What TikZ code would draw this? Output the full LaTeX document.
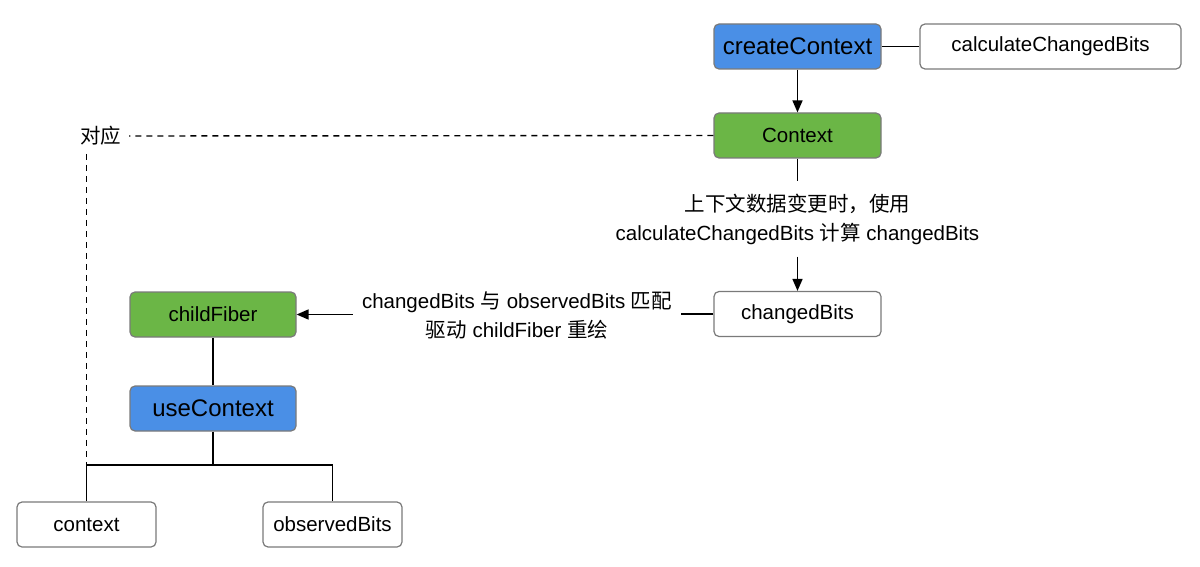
\documentclass[tikz,border=0pt]{standalone}
\usepackage{fontspec}
\setmainfont{Liberation Sans}
\newfontfamily\cjk{Noto Sans CJK SC}
\usetikzlibrary{arrows.meta}
\definecolor{bluebox}{HTML}{4A8FE6}
\definecolor{greenbox}{HTML}{6BB646}
\definecolor{edgegray}{HTML}{7A7A7A}
\tikzset{
  box/.style={draw=edgegray, line width=1.2pt, rounded corners=5pt, minimum width=167pt, minimum height=45pt, inner sep=0pt, font=\fontsize{20.5}{24}\selectfont},
  bigtext/.style={font=\fontsize{24}{28}\selectfont},
  smallbox/.style={box, minimum width=139pt},
  conn/.style={line width=1.6pt, black},
  arr/.style={conn, -{Triangle[length=12pt,width=10pt]}},
  dashline/.style={line width=1.4pt, black, dash pattern=on 6pt off 5pt},
  lbl/.style={align=center, font=\fontsize{20.5}{29}\selectfont}
}
\begin{document}
\begin{tikzpicture}[x=1pt,y=-1pt]
\useasboundingbox (0,0) rectangle (1200,567);
% nodes
\node[box, fill=bluebox, bigtext] (cc) at (797.5,46.5) {createContext};
\node[box, fill=white, minimum width=261pt] (calc) at (1050.5,46.5) {calculateChangedBits};
\node[box, fill=greenbox] (ctx) at (797.5,135.5) {Context};
\node[box, fill=white] (chg) at (797.5,314) {changedBits};
\node[box, fill=greenbox, minimum width=166pt] (cf) at (213,314.5) {childFiber};
\node[box, fill=bluebox, bigtext, minimum width=166pt] (uc) at (213,408.5) {useContext};
\node[smallbox, fill=white] (cx) at (86.5,524.5) {context};
\node[smallbox, fill=white] (ob) at (332.5,524.5) {observedBits};
% labels
\node[lbl, inner xsep=0pt, inner ysep=12pt] (l1) at (797.5,219) {{\cjk 上下文数据变更时，使用}\\calculateChangedBits {\cjk 计算} changedBits};
\node[lbl, inner xsep=9pt, inner ysep=0pt] (l2) at (517,315.5) {changedBits {\cjk 与} observedBits {\cjk 匹配}\\{\cjk 驱动} childFiber {\cjk 重绘}};
\node[font=\fontsize{20.5}{24}\selectfont\cjk, inner xsep=8pt, inner ysep=4pt] (dy) at (100.5,136) {对应};
% connectors
\draw[conn] (cc) -- (calc);
\draw[arr] (cc) -- (ctx);
\draw[conn] (ctx.south) -- (ctx.south |- l1.north);
\draw[arr] (chg.north |- l1.south) -- (chg.north);
\draw[conn] (chg.west) -- (l2.east |- chg.west);
\draw[arr] (l2.west |- cf.east) -- (cf.east);
\draw[conn] (cf) -- (uc);
\coordinate (j) at (213,465);
\draw[conn] (uc.south) -- (j);
\draw[conn] (cx.north) |- (j) -| (ob.north);
\draw[dashline] (ctx.west) -- (dy.east);
\draw[dashline] (dy.south -| cx.north) ++(0,4) -- (cx.north |- j);
\end{tikzpicture}
\end{document}
